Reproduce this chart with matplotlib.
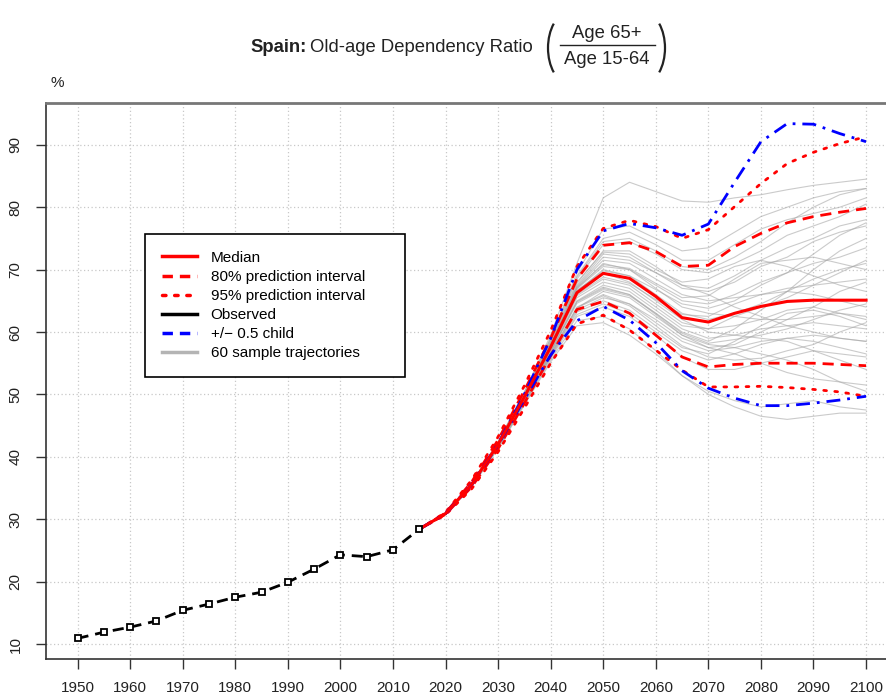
import matplotlib
matplotlib.use("Agg")
import matplotlib.pyplot as plt
from matplotlib.lines import Line2D
from matplotlib.patches import Arc
from matplotlib.transforms import IdentityTransform

plt.rcParams['font.family'] = ['Liberation Sans', 'DejaVu Sans']

# observed old-age dependency ratio (%)
obs_years = [1950, 1955, 1960, 1965, 1970, 1975, 1980, 1985, 1990, 1995, 2000, 2005, 2010, 2015]
obs_vals = [10.9, 11.9, 12.7, 13.7, 15.4, 16.4, 17.5, 18.3, 19.9, 22.0, 24.3, 24.0, 25.1, 28.4]

# projections
proj_years = [2015, 2020, 2025, 2030, 2035, 2040, 2045, 2050, 2055, 2060,
              2065, 2070, 2075, 2080, 2085, 2090, 2095, 2100]
median = [28.4, 30.9, 35.6, 42.0, 49.6, 57.6, 66.3, 69.4, 68.6, 65.7, 62.3, 61.6, 63.0, 64.1, 64.9, 65.1, 65.1, 65.1]
pi80_up = [28.4, 31.0, 36.0, 42.7, 50.6, 59.0, 68.5, 73.9, 74.3, 72.9, 70.5, 70.7, 73.7, 75.8, 77.5, 78.5, 79.2, 79.8]
pi80_lo = [28.4, 30.8, 35.2, 41.3, 48.6, 56.2, 63.6, 64.9, 63.0, 59.5, 56.0, 54.4, 54.8, 55.0, 55.0, 55.0, 54.8, 54.6]
pi95_up = [28.4, 31.1, 36.3, 43.2, 51.4, 60.2, 70.5, 76.6, 77.9, 76.9, 75.0, 76.4, 80.1, 83.8, 87.0, 88.8, 90.2, 91.3]
pi95_lo = [28.4, 30.7, 34.9, 40.8, 47.8, 55.0, 61.3, 62.7, 60.3, 57.1, 53.9, 51.2, 51.2, 51.3, 51.1, 50.8, 50.4, 49.7]
half_up = [28.4, 30.9, 35.6, 42.1, 50.0, 59.0, 70.0, 76.2, 77.4, 76.7, 75.5, 77.3, 84.0, 90.5, 93.4, 93.3, 91.8, 90.5]
half_lo = [28.4, 30.9, 35.6, 41.9, 49.2, 56.3, 61.8, 64.1, 61.9, 58.3, 53.8, 51.0, 49.4, 48.2, 48.2, 48.6, 49.1, 49.7]

# a subset of the sample trajectories, read approximately
trajectories = [
    [28.4, 31.0, 35.8, 42.4, 50.4, 59.5, 71.0, 81.5, 84.0, 82.5, 81.0, 80.8, 81.5, 82.0, 82.8, 83.5, 84.0, 84.5],
    [28.4, 31.0, 35.7, 42.3, 50.2, 59.0, 69.5, 76.5, 77.0, 75.0, 73.0, 73.5, 76.0, 78.5, 80.0, 81.5, 82.5, 83.0],
    [28.4, 30.9, 35.7, 42.2, 50.0, 58.5, 68.5, 74.0, 74.5, 72.5, 70.0, 69.5, 71.0, 73.0, 75.5, 77.0, 78.5, 80.5],
    [28.4, 30.9, 35.6, 42.1, 49.8, 58.0, 67.5, 72.5, 72.0, 69.5, 67.0, 66.5, 68.0, 70.5, 72.0, 74.5, 76.0, 77.0],
    [28.4, 30.9, 35.6, 42.0, 49.7, 57.8, 67.0, 71.0, 70.0, 67.5, 65.0, 64.5, 66.0, 68.0, 69.5, 71.0, 72.0, 73.5],
    [28.4, 30.9, 35.6, 42.0, 49.6, 57.6, 66.5, 70.0, 69.0, 66.0, 63.0, 62.0, 63.0, 64.5, 66.5, 68.5, 70.0, 71.0],
    [28.4, 30.9, 35.5, 41.9, 49.4, 57.2, 65.8, 68.5, 67.5, 64.5, 61.5, 60.5, 61.0, 62.0, 63.5, 64.0, 63.0, 62.0],
    [28.4, 30.8, 35.5, 41.8, 49.2, 56.9, 65.0, 67.5, 66.5, 63.5, 60.5, 59.0, 59.5, 60.5, 61.0, 61.5, 61.0, 60.5],
    [28.4, 30.8, 35.4, 41.7, 49.0, 56.5, 64.0, 66.0, 64.5, 61.5, 58.5, 57.0, 57.5, 58.5, 59.0, 59.5, 59.0, 58.5],
    [28.4, 30.8, 35.3, 41.5, 48.6, 55.8, 62.5, 64.0, 62.5, 59.5, 56.0, 54.0, 54.0, 55.0, 56.0, 57.0, 56.5, 56.0],
    [28.4, 30.7, 35.2, 41.3, 48.3, 55.2, 61.0, 61.5, 59.5, 56.5, 53.0, 50.5, 49.0, 48.0, 48.5, 49.0, 48.0, 47.5],
    [28.4, 30.8, 35.4, 41.6, 48.8, 56.2, 63.5, 65.5, 64.5, 62.0, 59.0, 57.5, 58.0, 60.0, 62.0, 64.0, 66.5, 68.0],
    [28.4, 30.9, 35.7, 42.2, 50.1, 58.3, 67.8, 73.0, 73.0, 70.5, 67.5, 67.0, 69.0, 71.5, 73.5, 75.0, 77.0, 78.0],
    [28.4, 30.9, 35.6, 42.1, 49.9, 58.1, 67.2, 71.5, 71.0, 68.5, 66.0, 65.0, 65.5, 66.0, 67.0, 67.5, 68.0, 68.5],
    [28.4, 30.9, 35.6, 42.0, 49.7, 57.7, 66.7, 69.5, 68.0, 65.0, 62.0, 60.0, 59.5, 59.0, 58.5, 57.0, 55.5, 54.0],
    [28.4, 30.8, 35.5, 41.9, 49.3, 57.0, 65.5, 68.0, 67.0, 64.0, 61.0, 60.5, 62.5, 64.0, 65.5, 67.5, 69.5, 71.5],
    [28.4, 30.8, 35.3, 41.4, 48.5, 55.5, 61.8, 62.5, 60.5, 57.0, 53.0, 50.0, 48.0, 46.5, 46.0, 46.5, 47.0, 47.0],
    [28.4, 31.0, 35.8, 42.4, 50.3, 59.0, 69.0, 75.0, 76.0, 74.0, 71.5, 71.5, 74.0, 76.5, 78.0, 79.0, 80.0, 81.5],
    [28.4, 30.9, 35.6, 42.0, 49.7, 57.8, 66.9, 70.5, 70.0, 67.0, 64.0, 63.0, 62.5, 62.0, 62.0, 62.5, 63.0, 62.5],
    [28.4, 30.8, 35.4, 41.6, 48.8, 56.3, 63.8, 66.5, 65.5, 62.5, 59.5, 58.0, 57.5, 56.5, 55.5, 54.0, 52.0, 50.5],
    [28.4, 30.9, 35.6, 42.1, 49.9, 58.0, 67.3, 72.0, 71.5, 69.5, 67.5, 66.0, 64.0, 62.5, 61.0, 60.0, 59.0, 58.5],
    [28.4, 30.8, 35.5, 41.8, 49.2, 56.8, 64.8, 67.0, 66.0, 63.0, 60.0, 58.5, 60.5, 63.5, 66.5, 70.0, 73.0, 75.0],
    [28.4, 30.8, 35.3, 41.5, 48.7, 56.0, 62.8, 64.5, 63.0, 60.0, 57.0, 55.5, 56.5, 58.0, 59.0, 58.5, 57.5, 56.5],
    [28.4, 30.9, 35.7, 42.3, 50.2, 58.8, 68.8, 74.5, 75.0, 73.0, 70.5, 70.0, 72.0, 74.5, 77.5, 80.0, 82.0, 83.0],
    [28.4, 30.9, 35.6, 42.0, 49.6, 57.5, 66.0, 68.8, 67.8, 65.2, 62.8, 62.5, 64.5, 66.0, 66.5, 66.0, 65.0, 64.0],
    [28.4, 30.8, 35.5, 41.8, 49.1, 56.7, 64.6, 66.8, 65.8, 63.0, 59.8, 58.2, 58.8, 59.5, 60.5, 62.0, 63.5, 64.5],
    [28.4, 30.9, 35.6, 42.1, 49.8, 57.9, 67.1, 70.8, 70.2, 67.8, 65.5, 65.8, 68.5, 71.0, 71.5, 72.0, 71.0, 70.0],
    [28.4, 30.8, 35.4, 41.7, 48.9, 56.4, 63.9, 65.8, 64.2, 61.0, 57.8, 56.0, 55.5, 55.8, 57.0, 58.0, 60.0, 61.5],
    [28.4, 30.9, 35.6, 42.0, 49.7, 57.7, 66.6, 69.8, 69.0, 66.8, 64.5, 63.8, 65.0, 67.5, 69.5, 72.5, 75.5, 77.5],
    [28.4, 30.8, 35.5, 41.8, 49.2, 56.8, 64.9, 67.2, 66.0, 62.8, 59.5, 57.5, 56.5, 55.0, 53.5, 52.5, 52.0, 51.5],
    [28.4, 30.9, 35.7, 42.2, 50.0, 58.4, 68.0, 72.8, 72.5, 70.0, 68.0, 68.5, 70.5, 71.5, 70.5, 69.0, 67.5, 66.5],
    [28.4, 30.8, 35.4, 41.6, 48.8, 56.1, 63.2, 65.0, 63.5, 60.5, 57.5, 56.5, 58.5, 61.0, 63.0, 63.5, 62.5, 61.0],
]

fig = plt.figure(figsize=(8.87, 6.98), dpi=100)
W, H = 887, 698
ax = fig.add_axes([46 / W, 39 / H, (897.6 - 46) / W, (659 - 103) / H])

for tr in trajectories:
    ax.plot(proj_years, tr, color='#a8a8a8', lw=0.8, alpha=0.6)

ax.plot(proj_years, pi95_up, color='red', lw=2, ls=(0, (1, 3)), dash_capstyle='round')
ax.plot(proj_years, pi95_lo, color='red', lw=2, ls=(0, (1, 3)), dash_capstyle='round')
ax.plot(proj_years, pi80_up, color='red', lw=2, ls=(0, (4, 2.5)))
ax.plot(proj_years, pi80_lo, color='red', lw=2, ls=(0, (4, 2.5)))
ax.plot(proj_years, half_up, color='#0000ff', lw=2, ls=(0, (5, 2.5, 1, 2.5)))
ax.plot(proj_years, half_lo, color='#0000ff', lw=2, ls=(0, (5, 2.5, 1, 2.5)))
ax.plot(proj_years, median, color='red', lw=2.2)
ax.plot(obs_years, obs_vals, color='black', lw=2, ls=(0, (4, 2.5)),
        marker='s', markersize=4, mfc='white', mec='black', mew=1.3)

ax.set_xlim(1944, 2106)
ax.set_ylim(7.6, 96.7)
ax.set_xticks(range(1950, 2101, 10))
ax.set_yticks(range(10, 91, 10))
ax.grid(True, color='#c8c8c8', ls=(0, (1, 2)), lw=0.9)
ax.tick_params(axis='both', length=7, width=1, color='#333333', labelsize=11, labelcolor='#222222')
ax.tick_params(axis='x', pad=9)
ax.tick_params(axis='y', pad=10)
for lab in ax.get_yticklabels():
    lab.set_rotation(90)
    lab.set_va('center')
for s in ax.spines.values():
    s.set_color('#333333')
    s.set_linewidth(1.2)
ax.spines['top'].set_color('#777777')
ax.spines['top'].set_linewidth(2)

handles = [
    Line2D([], [], color='red', lw=2.5),
    Line2D([], [], color='red', lw=2.5, ls=(0, (3, 2))),
    Line2D([], [], color='red', lw=2.5, ls=(0, (1, 2.5)), dash_capstyle='round'),
    Line2D([], [], color='black', lw=2.5),
    Line2D([], [], color='#0000ff', lw=2.5, ls=(0, (3, 2))),
    Line2D([], [], color='#b4b4b4', lw=2.5),
]
labels = ['Median', '80% prediction interval', '95% prediction interval', 'Observed',
          '+/\u2212 0.5 child', '60 sample trajectories']
leg = fig.legend(handles, labels, loc='upper left',
                 bbox_to_anchor=(145 / W, 1 - 376 / H, (405 - 145) / W, (376 - 234) / H),
                 mode='expand', borderaxespad=0, fancybox=False, edgecolor='black',
                 framealpha=1, fontsize=11, handlelength=2.3, handletextpad=0.9,
                 labelspacing=0.33, borderpad=1.1)
leg.get_frame().set_linewidth(1.2)

# title with fraction
fs = 13.3
ink = '#222222'
t1 = fig.text(533 / W, 1 - 47 / H, 'Old-age Dependency Ratio', ha='right', va='center', fontsize=fs, color=ink)
fig.canvas.draw()
bb = t1.get_window_extent()
fig.text((bb.x0 - 4) / W, 1 - 47 / H, 'Spain:', ha='right', va='center', fontsize=fs,
         fontweight='bold', color=ink)
fig.text(607 / W, 1 - 33 / H, 'Age 65+', ha='center', va='center', fontsize=fs, color=ink)
fig.text(607 / W, 1 - 60 / H, 'Age 15-64', ha='center', va='center', fontsize=fs, color=ink)
fig.add_artist(Line2D([560 / W, 655 / W], [1 - 45 / H, 1 - 45 / H], color=ink, lw=1))
# thin parentheses drawn as elliptical arcs (pixel coordinates)
fig.add_artist(Arc((570, H - 48), 44, 72, theta1=123.6, theta2=236.4,
                   transform=IdentityTransform(), color=ink, lw=1.6))
fig.add_artist(Arc((643, H - 48), 44, 72, theta1=-56.4, theta2=56.4,
                   transform=IdentityTransform(), color=ink, lw=1.6))
fig.text(57 / W, 1 - 83 / H, '%', ha='center', va='center', fontsize=11, color=ink)

fig.savefig('out.png', dpi=100)
